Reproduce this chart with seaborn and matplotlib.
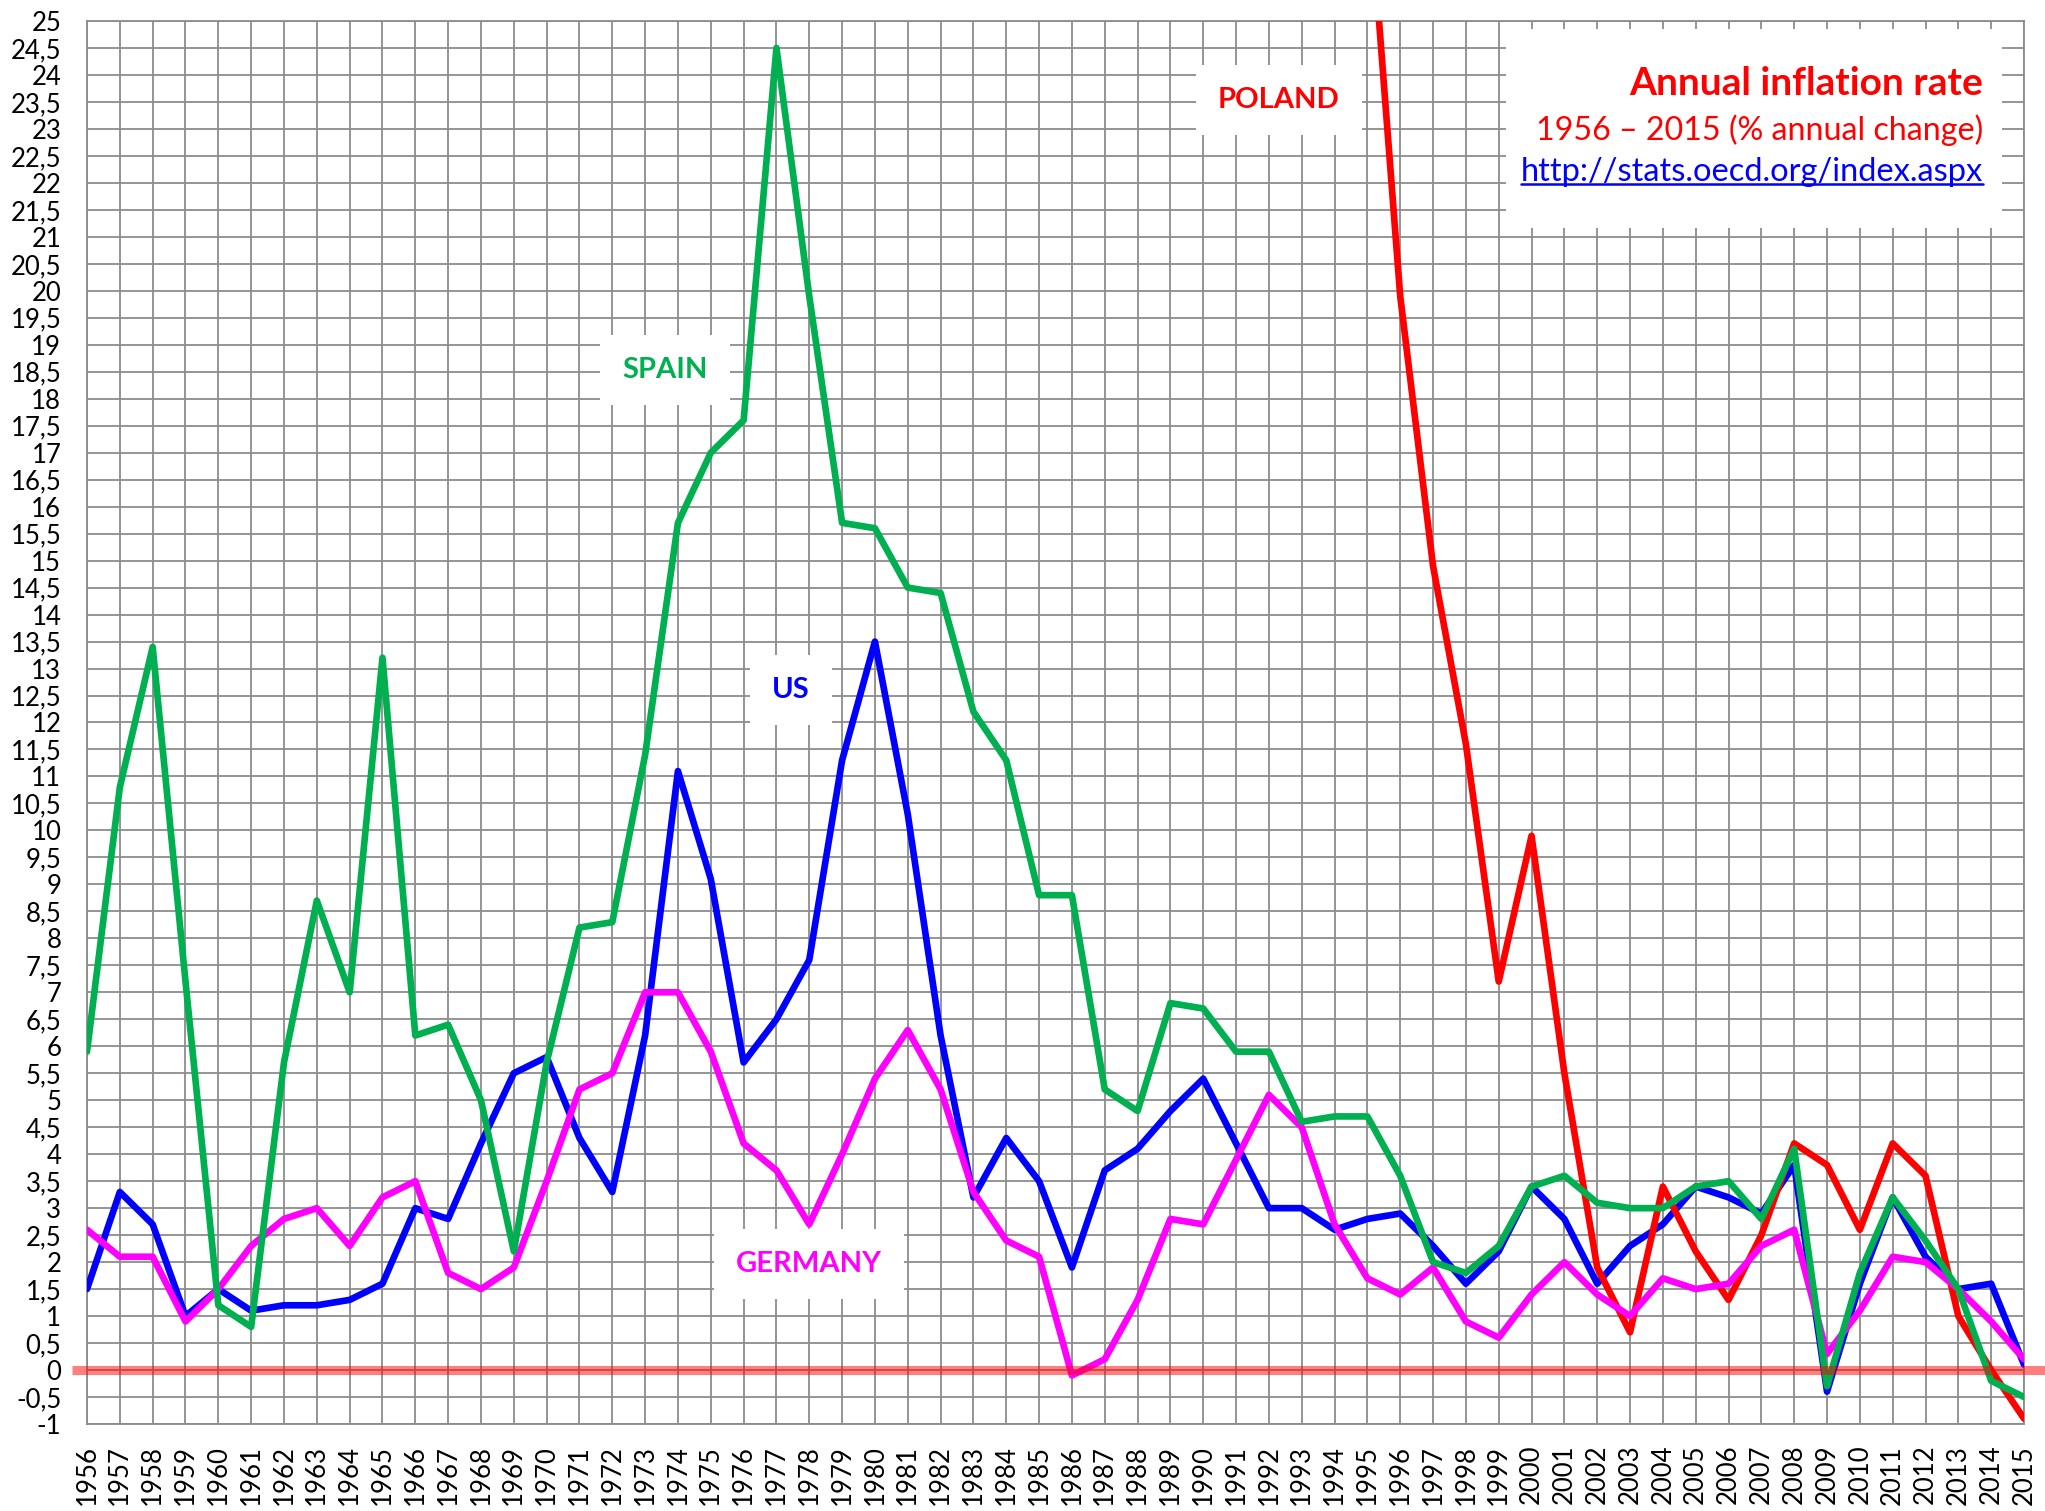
import matplotlib
matplotlib.use("Agg")
import matplotlib.pyplot as plt
from matplotlib.lines import Line2D
from matplotlib.patches import Rectangle
import numpy as np
import pandas as pd
import seaborn as sns

years = list(range(1956, 2016))

spain = [5.9, 10.8, 13.4, 7.2, 1.2, 0.8, 5.7, 8.7, 7.0, 13.2,
         6.2, 6.4, 5.0, 2.2, 5.7, 8.2, 8.3, 11.4, 15.7, 17.0,
         17.6, 24.5, 19.9, 15.7, 15.6, 14.5, 14.4, 12.2, 11.3, 8.8,
         8.8, 5.2, 4.8, 6.8, 6.7, 5.9, 5.9, 4.6, 4.7, 4.7,
         3.6, 2.0, 1.8, 2.3, 3.4, 3.6, 3.1, 3.0, 3.0, 3.4,
         3.5, 2.8, 4.1, -0.3, 1.8, 3.2, 2.4, 1.5, -0.2, -0.5]

us = [1.5, 3.3, 2.7, 1.0, 1.5, 1.1, 1.2, 1.2, 1.3, 1.6,
      3.0, 2.8, 4.2, 5.5, 5.8, 4.3, 3.3, 6.2, 11.1, 9.1,
      5.7, 6.5, 7.6, 11.3, 13.5, 10.3, 6.2, 3.2, 4.3, 3.5,
      1.9, 3.7, 4.1, 4.8, 5.4, 4.2, 3.0, 3.0, 2.6, 2.8,
      2.9, 2.3, 1.6, 2.2, 3.4, 2.8, 1.6, 2.3, 2.7, 3.4,
      3.2, 2.9, 3.8, -0.4, 1.6, 3.2, 2.1, 1.5, 1.6, 0.1]

germany = [2.6, 2.1, 2.1, 0.9, 1.5, 2.3, 2.8, 3.0, 2.3, 3.2,
           3.5, 1.8, 1.5, 1.9, 3.5, 5.2, 5.5, 7.0, 7.0, 5.9,
           4.2, 3.7, 2.7, 4.0, 5.4, 6.3, 5.2, 3.3, 2.4, 2.1,
           -0.1, 0.2, 1.3, 2.8, 2.7, 3.9, 5.1, 4.5, 2.7, 1.7,
           1.4, 1.9, 0.9, 0.6, 1.4, 2.0, 1.4, 1.0, 1.7, 1.5,
           1.6, 2.3, 2.6, 0.3, 1.1, 2.1, 2.0, 1.5, 0.9, 0.2]

# Poland only from 1995 on
poland = [np.nan] * 39 + [27.8, 19.9, 14.9, 11.6, 7.2, 9.9, 5.5, 1.9, 0.7, 3.4,
                          2.2, 1.3, 2.5, 4.2, 3.8, 2.6, 4.2, 3.6, 1.0, 0.0, -0.9]

countries = ["US", "POLAND", "GERMANY", "SPAIN"]
colours = {"US": "#0000FF", "POLAND": "#FF0000",
           "GERMANY": "#FF00FF", "SPAIN": "#00B050"}

y_ticks = np.arange(-1, 25.01, 0.5)


def comma(v):
    return f"{v:g}".replace(".", ",")


frames = []
for name, values in (("US", us), ("POLAND", poland),
                     ("GERMANY", germany), ("SPAIN", spain)):
    frames.append(pd.DataFrame({"year": years, "rate": values, "country": name}))
df = pd.concat(frames, ignore_index=True)

sns.set_style("white")
plt.rcParams["font.family"] = ["Lato", "DejaVu Sans"]

fig = plt.figure(figsize=(20.45, 15.11), dpi=100)
ax = fig.add_axes([87 / 2045, 87 / 1511, 1937 / 2045, 1403 / 1511])

grey = "#8c8c8c"
sns.lineplot(data=df, x="year", y="rate", hue="country",
             hue_order=countries, palette=colours,
             linewidth=4.8, legend=False, ax=ax, zorder=4)

ax.set_xlim(1956, 2015)
ax.set_ylim(-1, 25)
ax.set_xticks(years)
ax.set_xticklabels([str(y) for y in years])
ax.set_yticks(y_ticks)
ax.set_yticklabels([comma(v) for v in y_ticks])
ax.set_xlabel("")
ax.set_ylabel("")

ax.grid(True, color=grey, linewidth=1.3)
ax.set_axisbelow(True)
for spine in ax.spines.values():
    spine.set_color(grey)
    spine.set_linewidth(1.3)

ax.tick_params(axis="y", length=6.5, width=1.3, color=grey, pad=12,
               labelsize=18.5, labelcolor="black")
ax.tick_params(axis="x", length=0, pad=15, labelsize=18.5,
               labelcolor="black", rotation=90)

# translucent zero line running past both ends of the plot
ax.axhline(0, xmin=-0.008, xmax=1.011, color="red", alpha=0.5,
           linewidth=6.5, clip_on=False, zorder=6, solid_capstyle="butt")

# country labels in white boxes
box = dict(facecolor="white", edgecolor="none", pad=16)
for name, xy in (("SPAIN", (1973.6, 18.53)), ("US", (1977.45, 12.6)),
                 ("GERMANY", (1978.0, 1.96)), ("POLAND", (1992.3, 23.54))):
    ax.text(*xy, name, color=colours[name], fontsize=21, fontweight="bold",
            ha="center", va="center", bbox=box, zorder=3)

# title block
ax.add_patch(Rectangle((0.7326, 0.8525), 0.256, 0.1418, transform=ax.transAxes,
                       facecolor="white", edgecolor="none", zorder=3))
ax.text(0.9788, 0.9555, "Annual inflation rate", transform=ax.transAxes,
        color="#FF0000", fontsize=28, fontweight="bold",
        ha="right", va="center", zorder=5)
ax.text(0.9788, 0.9225, "1956 – 2015 (% annual change)", transform=ax.transAxes,
        color="#FF0000", fontsize=23.2, ha="right", va="center", zorder=5)
url = ax.text(0.9788, 0.8925, "http://stats.oecd.org/index.aspx",
              transform=ax.transAxes, color="#0000FF", fontsize=23.5,
              ha="right", va="center", zorder=5)

fig.canvas.draw()
bb = url.get_window_extent()
fig.add_artist(Line2D([bb.x0, bb.x1], [bb.y0 + 3, bb.y0 + 3],
                      transform=None, color="#0000FF", linewidth=1.8))

fig.savefig("out.png", dpi=100)
